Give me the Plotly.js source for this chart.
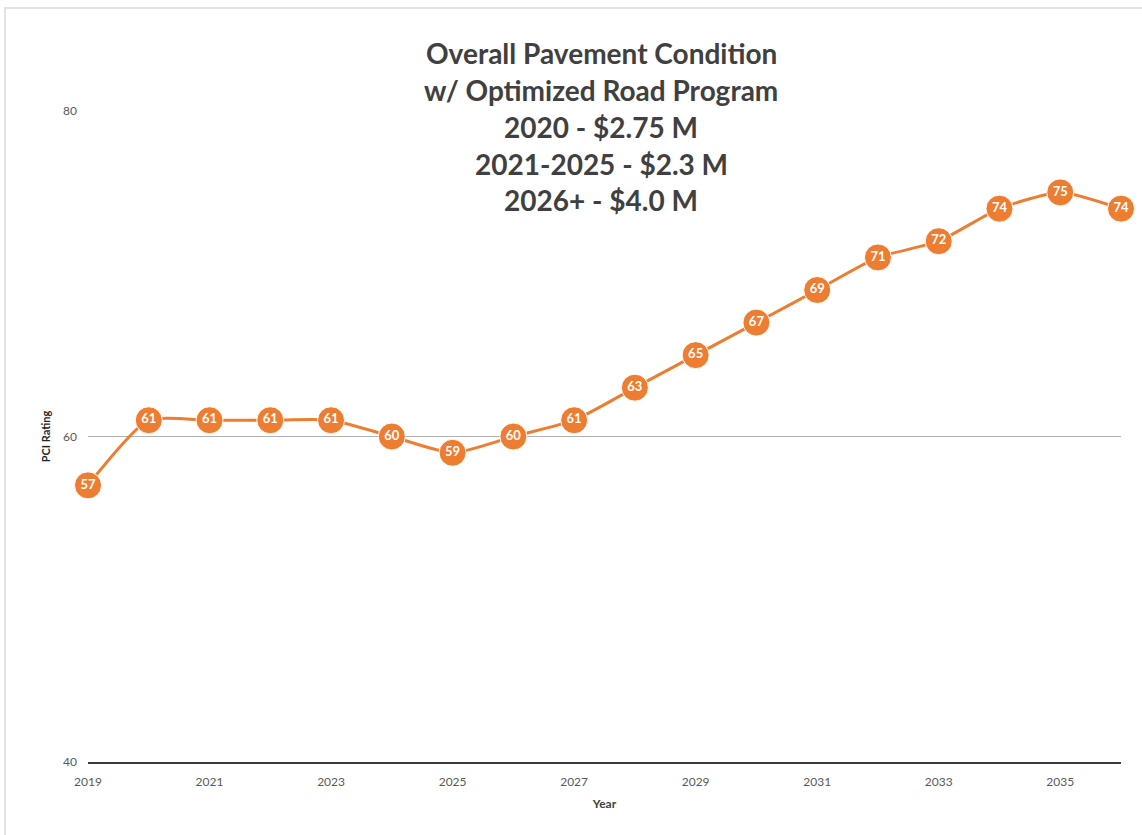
<!DOCTYPE html>
<html>
<head>
<meta charset="utf-8">
<script src="https://cdn.plot.ly/plotly-3.0.1.min.js"></script>
<style>
  html, body { margin: 0; padding: 0; background: #ffffff; overflow: hidden; }
  #frame { position: absolute; left: 4px; top: 7px; width: 1200px; height: 900px;
           border-left: 2px solid #e3e3e3; border-top: 2px solid #e3e3e3; box-sizing: border-box; }
  #chart { position: absolute; left: 0; top: 0; width: 1142px; height: 835px; }
</style>
</head>
<body>
<div id="frame"></div>
<div id="chart"></div>
<script>
const years = [2019, 2020, 2021, 2022, 2023, 2024, 2025, 2026, 2027, 2028, 2029, 2030, 2031, 2032, 2033, 2034, 2035, 2036];
const pci   = [57, 61, 61, 61, 61, 60, 59, 60, 61, 63, 65, 67, 69, 71, 72, 74, 75, 74];
const titleLines = [
  "Overall Pavement Condition",
  "w/ Optimized Road Program",
  "2020 - $2.75 M",
  "2021-2025 - $2.3 M",
  "2026+ - $4.0 M"
];
const xTickVals = [2019, 2021, 2023, 2025, 2027, 2029, 2031, 2033, 2035];
const yTickVals = [40, 60, 80];

const FONT = "Lato, 'Open Sans', sans-serif";
const orange = "#ED7D31";

const trace = {
  x: years,
  y: pci,
  mode: "lines+markers+text",
  type: "scatter",
  line: { color: orange, width: 3, shape: "spline", smoothing: 0.6 },
  marker: { color: orange, size: 27, line: { color: "#ffffff", width: 1 } },
  text: pci.map(String),
  textposition: "middle center",
  textfont: { family: FONT, size: 13, color: "#ffffff", weight: "bold" },
  cliponaxis: false,
  hoverinfo: "x+y",
  showlegend: false
};

// secondary trace to draw darker 60 gridline via overlay axis
const gridTrace = { x: [years[0]], y: [pci[0]], yaxis: "y2", mode: "none", showlegend: false, hoverinfo: "skip" };

const titleY = [1.089, 1.032, 0.975, 0.919, 0.863];
const annotations = titleLines.map((t, i) => ({
  text: t,
  xref: "paper", yref: "paper",
  x: 0.497, y: titleY[i],
  xanchor: "center", yanchor: "middle",
  showarrow: false,
  font: { family: FONT, size: 28, color: "#404040", weight: "bold" }
}));

const layout = {
  width: 1142, height: 835,
  margin: { l: 88, r: 21, t: 111, b: 73 },
  paper_bgcolor: "rgba(0,0,0,0)",
  plot_bgcolor: "rgba(0,0,0,0)",
  font: { family: FONT, color: "#595959" },
  annotations: annotations,
  xaxis: {
    range: [2019, 2036],
    tickvals: xTickVals,
    ticktext: xTickVals.map(String),
    showgrid: false,
    zeroline: false,
    showline: true,
    linecolor: "#3a3a3a",
    linewidth: 2,
    ticks: "",
    ticklabelstandoff: 8,
    tickfont: { family: FONT, size: 12, color: "#595959" },
    title: { text: "Year", font: { family: FONT, size: 12, color: "#404040", weight: "bold" }, standoff: 11 }
  },
  yaxis: {
    range: [40, 80],
    tickvals: yTickVals,
    ticktext: yTickVals.map(String),
    showgrid: true,
    gridcolor: "#e6e6e6",
    gridwidth: 1,
    zeroline: false,
    showline: false,
    ticks: "",
    ticklabelstandoff: 10,
    tickfont: { family: FONT, size: 12, color: "#595959" },
    title: { text: "PCI Rating", font: { family: FONT, size: 11, color: "#262626", weight: "bold" }, standoff: 10 }
  },
  yaxis2: {
    overlaying: "y",
    range: [40, 80],
    tickvals: [60],
    showticklabels: false,
    showgrid: true,
    gridcolor: "#b0b0b0",
    gridwidth: 1,
    zeroline: false,
    showline: false,
    ticks: ""
  }
};

Plotly.newPlot("chart", [gridTrace, trace], layout, { displayModeBar: false, staticPlot: true });
</script>
</body>
</html>
